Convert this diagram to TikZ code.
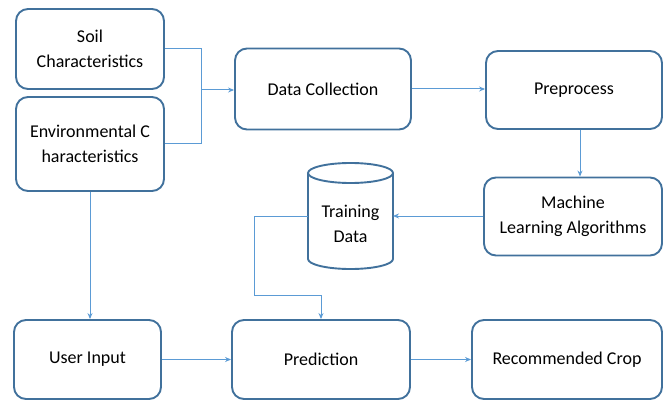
\documentclass[tikz,border=0pt]{standalone}
\usepackage{fontspec}
\setmainfont{Carlito}
\usetikzlibrary{arrows.meta}
\definecolor{boxc}{RGB}{65,113,156}
\definecolor{linec}{RGB}{91,155,213}
\begin{document}
\begin{tikzpicture}[x=1pt,y=-1pt,
  box/.style={draw=boxc, line width=1.9pt, rounded corners=12pt, align=center, inner sep=2pt, font=\fontsize{18}{25}\selectfont},
  conn/.style={draw=linec, line width=1pt},
  arr/.style={conn, -{Stealth[length=6pt,width=5pt]}}]
\useasboundingbox (0,0) rectangle (664,401);
\node[box, minimum width=148pt, minimum height=80pt] (soil) at (90,49) {Soil\\Characteristics};
\node[box, minimum width=148pt, minimum height=94pt] (env) at (90,144) {Environmental C\\haracteristics};
\node[box, minimum width=176pt, minimum height=81pt] (dc) at (323,89) {Data Collection};
\node[box, minimum width=176pt, minimum height=78pt] (pre) at (574,90) {Preprocess};
\node[box, minimum width=178pt, minimum height=78pt] (ml) at (573,216.5) {Machine\\Learning Algorithms};
\node[box, minimum width=147pt, minimum height=79pt] (ui) at (87.5,359.5) {User Input};
\node[box, minimum width=178pt, minimum height=79pt] (pred) at (321,359.5) {Prediction};
\node[box, minimum width=190pt, minimum height=79pt] (rec) at (567,359.5) {Recommended Crop};
% cylinder
\node[minimum width=85pt, minimum height=90pt, inner sep=0pt, align=center, font=\fontsize{18}{25}\selectfont] (td) at (350.5,224) {Training\\Data};
\draw[boxc, line width=1.9pt] (308,173) -- (308,259) arc[start angle=180, end angle=360, x radius=42.5pt, y radius=10pt] -- (393,173);
\draw[boxc, line width=1.9pt] (350.5,173) ellipse[x radius=42.5pt, y radius=10pt];
% connectors
\coordinate (j) at (201,90);
\draw[conn] (soil.east) -| (j);
\draw[conn] (env.east) -| (j);
\draw[arr] (j) -- (dc.west |- j);
\draw[arr] (dc.east) -- (pre.west |- dc.east);
\draw[arr] (pre.south -| 580,0) -- (ml.north -| 580,0);
\coordinate (t1) at (393,216);
\coordinate (t0) at (308,216);
\draw[arr] (ml.west |- t1) -- (t1);
\coordinate (c1) at (254,295);
\draw[arr] (t0) -| (c1) -| (pred.north);
\draw[arr] (env.south) -- (env.south |- ui.north);
\draw[arr] (ui.east) -- (pred.west);
\draw[arr] (pred.east) -- (rec.west);
\end{tikzpicture}
\end{document}
